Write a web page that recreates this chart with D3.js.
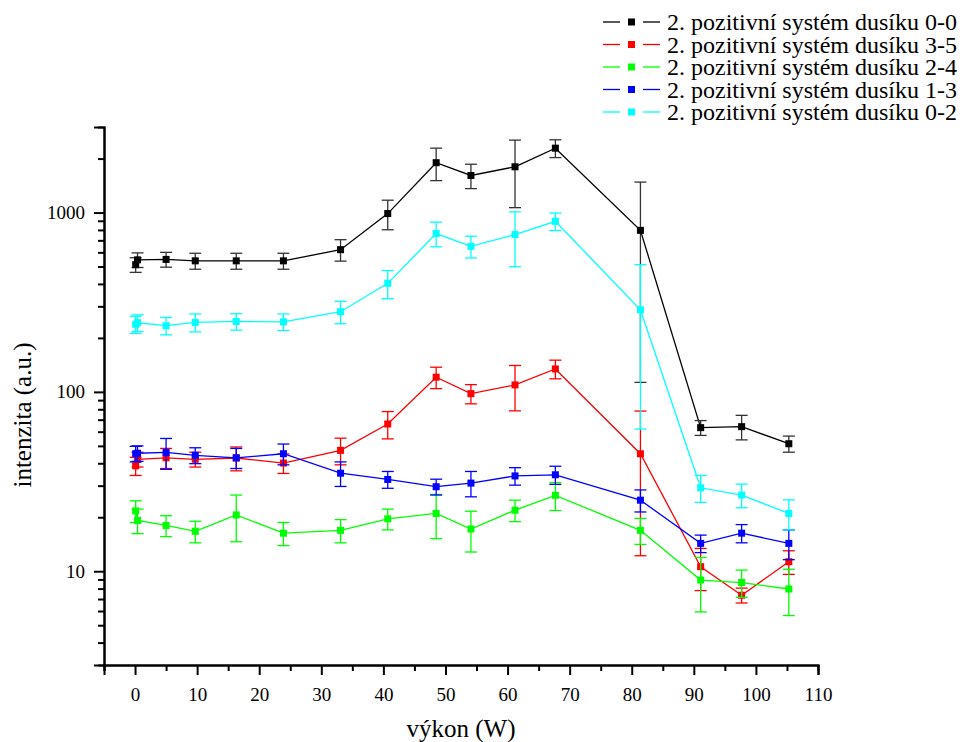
<!DOCTYPE html>
<html>
<head>
<meta charset="utf-8">
<script src="https://cdn.jsdelivr.net/npm/d3@7"></script>
<style>
    body { margin: 0; background: #fff; }
    svg { display: block; }
</style>
</head>
<body>
<svg id="chart" width="963" height="742"></svg>
<script>
// výkon (W) - shared by all series
const power = [0.1, 0.4, 5.0, 9.7, 16.3, 23.9, 33.1, 40.7, 48.5, 54.1, 61.2, 67.7, 81.4, 91.1, 97.7, 105.3];

const band00 = [512, 545, 548, 538, 538, 538, 621, 987, 1897, 1610, 1800, 2286, 796, 63.2, 64.0, 51.4];
const band00Err = [48, 51, 52, 55, 55, 55, 85, 185, 390, 250, 735, 260, 683, 6, 10, 5.3];

const band35 = [38.7, 42.1, 42.9, 42.1, 42.8, 40.1, 47.2, 66.2, 120.8, 97.8, 109.4, 134.3, 45.2, 10.6, 7.35, 11.3];
const band35Err = [4.5, 4, 5.5, 4, 6.5, 5, 8, 11.5, 16.5, 12, 31, 16, 33, 2.8, 0.7, 1.7];

const band24 = [21.7, 19.2, 18.0, 16.7, 20.6, 16.3, 16.9, 19.6, 21.0, 17.2, 21.9, 26.5, 16.9, 8.93, 8.65, 7.96];
const band24Err = [3, 3, 2.4, 2.3, 6, 2.4, 2.5, 2.6, 5.8, 4.4, 3, 4.7, 2.8, 3, 1.5, 2.3];

const band13 = [45.2, 45.5, 46.0, 44.3, 42.9, 45.2, 35.2, 32.5, 29.6, 31.0, 34.0, 34.5, 24.9, 14.3, 16.3, 14.3];
const band13Err = [4.5, 4.5, 9, 4.5, 5.5, 6, 5.5, 3.5, 3, 5, 3.8, 4, 3.5, 1.6, 1.9, 2.7];

const band02 = [238, 243, 234, 244, 247, 246, 280, 403, 764, 648, 754, 894, 287, 29.2, 26.6, 21.0];
const band02Err = [26, 26, 26, 28, 26, 26, 40, 72, 120, 90, 255, 100, 225, 5, 4, 4];

const seriesNames = [
    "2. pozitivní systém dusíku 0-0",
    "2. pozitivní systém dusíku 3-5",
    "2. pozitivní systém dusíku 2-4",
    "2. pozitivní systém dusíku 1-3",
    "2. pozitivní systém dusíku 0-2"
];
const seriesColors = ["#000000", "#ff0000", "#00ff00", "#0000ff", "#00ffff"];
const seriesValues = [band00, band35, band24, band13, band02];
const seriesErrors = [band00Err, band35Err, band24Err, band13Err, band02Err];

const xMajor = [0, 10, 20, 30, 40, 50, 60, 70, 80, 90, 100, 110];
const xMinor = [-5, 5, 15, 25, 35, 45, 55, 65, 75, 85, 95, 105];
const yMajor = [10, 100, 1000];
const yMinor = [4, 5, 6, 7, 8, 9, 20, 30, 40, 50, 60, 70, 80, 90,
                200, 300, 400, 500, 600, 700, 800, 900, 2000];

const serif = "Liberation Serif";

const svg = d3.select("#chart");

const x = d3.scaleLinear().domain([-5, 110]).range([104, 818]);
const y = d3.scaleLog().domain([3, 3000]).range([665, 127]);

// osy
const axisStyle = g => {
    g.attr("font-family", serif).attr("font-size", 19);
    g.select(".domain").attr("stroke", "#000").attr("stroke-width", 2);
    g.selectAll(".tick line").attr("stroke", "#000").attr("stroke-width", 2);
    g.selectAll(".tick text").attr("fill", "#000");
};

svg.append("g")
    .attr("transform", "translate(0,665)")
    .call(d3.axisBottom(x).tickValues(xMinor).tickSize(6).tickFormat(""))
    .call(axisStyle);
svg.append("g")
    .attr("transform", "translate(0,665)")
    .call(d3.axisBottom(x).tickValues(xMajor).tickSize(10).tickPadding(13).tickFormat(d3.format("d")))
    .call(axisStyle);

svg.append("g")
    .attr("transform", "translate(104,0)")
    .call(d3.axisLeft(y).tickValues(yMinor).tickSize(6).tickFormat(""))
    .call(axisStyle);
svg.append("g")
    .attr("transform", "translate(104,0)")
    .call(d3.axisLeft(y).tickValues(yMajor).tickSize(10).tickPadding(9).tickFormat(d3.format("d")))
    .call(axisStyle);

svg.append("text")
    .attr("x", 461).attr("y", 737)
    .attr("text-anchor", "middle")
    .attr("font-family", serif).attr("font-size", 25)
    .text("výkon (W)");

svg.append("text")
    .attr("transform", "translate(31,415) rotate(-90)")
    .attr("text-anchor", "middle")
    .attr("font-family", serif).attr("font-size", 25)
    .text("intenzita (a.u.)");

// data
const line = d3.line().x(d => x(d.p)).y(d => y(d.v));

seriesValues.forEach((vals, i) => {
    const color = seriesColors[i];
    const errColor = i === 0 ? "#333" : color;
    const pts = power.map((p, j) => ({ p: p, v: vals[j], e: seriesErrors[i][j] }));
    const g = svg.append("g");

    g.append("path")
        .datum(pts)
        .attr("fill", "none")
        .attr("stroke", color)
        .attr("stroke-width", 1.3)
        .attr("d", line);

    const eb = g.selectAll(".err").data(pts).enter().append("g");
    eb.append("line")
        .attr("x1", d => x(d.p)).attr("x2", d => x(d.p))
        .attr("y1", d => y(d.v + d.e)).attr("y2", d => y(d.v - d.e))
        .attr("stroke", errColor).attr("stroke-width", 1.3);
    [1, -1].forEach(s => {
        eb.append("line")
            .attr("x1", d => x(d.p) - 6).attr("x2", d => x(d.p) + 6)
            .attr("y1", d => y(d.v + s * d.e)).attr("y2", d => y(d.v + s * d.e))
            .attr("stroke", errColor).attr("stroke-width", 1.3);
    });

    g.selectAll(".pt").data(pts).enter().append("rect")
        .attr("x", d => x(d.p) - 3.5)
        .attr("y", d => y(d.v) - 3.5)
        .attr("width", 7).attr("height", 7)
        .attr("fill", color);
});

// legenda
const legend = svg.append("g");
seriesNames.forEach((name, i) => {
    const ly = 22 + i * 22.5;
    const row = legend.append("g").attr("transform", `translate(0,${ly})`);
    row.append("line").attr("x1", 603).attr("x2", 620).attr("y1", 0).attr("y2", 0)
        .attr("stroke", seriesColors[i]).attr("stroke-width", 1.3);
    row.append("line").attr("x1", 643).attr("x2", 660).attr("y1", 0).attr("y2", 0)
        .attr("stroke", seriesColors[i]).attr("stroke-width", 1.3);
    row.append("rect").attr("x", 628).attr("y", -3.5).attr("width", 7).attr("height", 7)
        .attr("fill", seriesColors[i]);
    row.append("text").attr("x", 667).attr("y", 8)
        .attr("font-family", serif).attr("font-size", 24)
        .text(name);
});
</script>
</body>
</html>
